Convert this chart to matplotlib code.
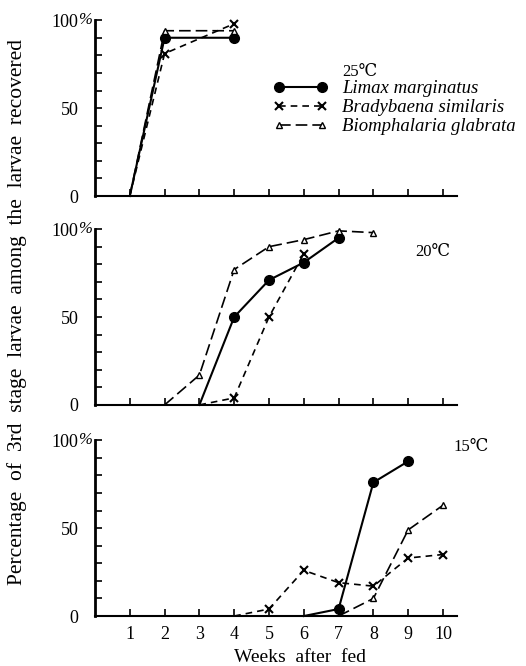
import matplotlib.pyplot as plt
from matplotlib.ticker import MultipleLocator

plt.rcParams['font.family'] = ['Liberation Serif', 'DejaVu Serif']

# datos (semanas, %)
weeks_25 = {"limax": [1, 2, 4], "brady": [1, 2, 4], "biomph": [1, 2, 4]}
vals_25 = {"limax": [0, 90, 90], "brady": [0, 81, 98], "biomph": [0, 94, 94]}

weeks_20 = {"limax": [3, 4, 5, 6, 7], "brady": [3, 4, 5, 6], "biomph": [2, 3, 4, 5, 6, 7, 8]}
vals_20 = {"limax": [0, 50, 71, 81, 95], "brady": [0, 4, 50, 86], "biomph": [0, 17, 77, 90, 94, 99, 98]}

weeks_15 = {"limax": [6, 7, 8, 9], "brady": [4, 5, 6, 7, 8, 9, 10], "biomph": [7, 8, 9, 10]}
vals_15 = {"limax": [0, 4, 76, 88], "brady": [0, 4, 26, 19, 17, 33, 35], "biomph": [0, 10, 49, 63]}

species = ["limax", "brady", "biomph"]
names = {"limax": "Limax marginatus", "brady": "Bradybaena similaris", "biomph": "Biomphalaria glabrata"}
temps = ["25℃", "20℃", "15℃"]
week_ticks = list(range(1, 11))

styles = {
    "limax": dict(color="black", lw=1.5, ls="-", marker="o", ms=7, mfc="black"),
    "brady": dict(color="black", lw=1.2, ls=(0, (4, 3)), marker="x", ms=6, mew=1.5),
    "biomph": dict(color="black", lw=1.2, ls=(0, (7, 3)), marker="^", ms=5, mfc="white", mew=1),
}

fig = plt.figure(figsize=(5.26, 6.66), dpi=100)
bottoms = [0.7057, 0.392, 0.075]
datasets = [(weeks_25, vals_25), (weeks_20, vals_20), (weeks_15, vals_15)]
temp_pos = [(0.685, 0.892), (0.823, 0.621), (0.895, 0.329)]

axes = []
for i, (wk, vv) in enumerate(datasets):
    ax = fig.add_axes([0.1806, bottoms[i], 0.688, 0.264])
    for sp in species:
        # el primer punto (0%) va sin marcador
        ax.plot(wk[sp], vv[sp], label=names[sp], clip_on=False,
                markevery=list(range(1, len(wk[sp]))), **styles[sp])
    ax.set_xlim(0, 10.4)
    ax.set_ylim(0, 100)
    ax.spines["top"].set_visible(False)
    ax.spines["right"].set_visible(False)
    ax.spines["left"].set_linewidth(2)
    ax.spines["bottom"].set_linewidth(1.5)
    ax.set_xticks(week_ticks)
    ax.set_yticks([0, 50, 100])
    ax.set_yticklabels(["0", "50", "100"])
    ax.yaxis.set_minor_locator(MultipleLocator(10))
    ax.tick_params(direction="in", length=5, width=1.2, labelsize=13)
    ax.tick_params(which="minor", direction="in", length=5, width=1.2)
    ax.tick_params(axis="y", pad=12)
    ax.annotate("%", xy=(0, 1), xycoords="axes fraction", xytext=(-2, 0),
                textcoords="offset points", ha="right", va="center", fontsize=12, style="italic")
    if i < 2:
        ax.set_xticklabels([])
    else:
        ax.tick_params(axis="x", pad=7)
    fig.text(temp_pos[i][0], temp_pos[i][1], temps[i], fontsize=12, ha="center", va="center")
    axes.append(ax)

leg = axes[0].legend(loc="upper left", bbox_to_anchor=(273 / 526, 1 - 80 / 666), bbox_transform=fig.transFigure,
                     frameon=False, numpoints=2, handlelength=2.9, handletextpad=0.8,
                     labelspacing=0.1, borderpad=0, borderaxespad=0,
                     prop={"style": "italic", "size": 13.5})

fig.text(0.033, 0.532, "Percentage  of  3rd  stage  larvae  among  the  larvae  recovered",
         rotation=90, ha="center", va="center", fontsize=15.5)
fig.text(300 / 526, 1 - 658 / 666, "Weeks  after  fed", ha="center", va="center", fontsize=14)

plt.savefig("out.png", dpi=100)
